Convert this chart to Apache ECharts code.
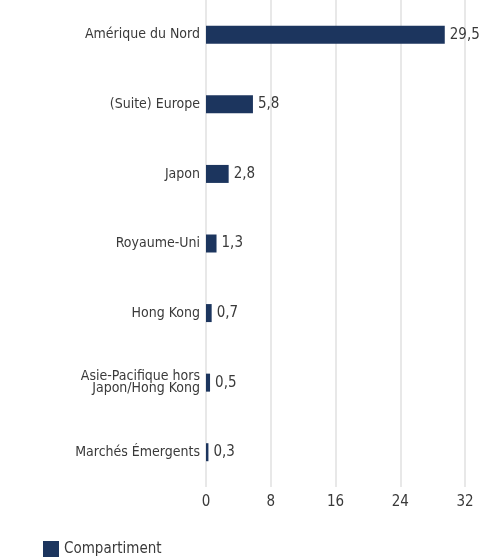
<!DOCTYPE html>
<html><head><meta charset="utf-8">
<script src="https://cdn.jsdelivr.net/npm/echarts@6/dist/echarts.min.js"></script>
<style>html,body{margin:0;padding:0;background:#fff}#c{width:479px;height:559px}</style>
</head><body><div id="c"></div>
<script>
const categories = ["Amérique du Nord","(Suite) Europe","Japon","Royaume-Uni","Hong Kong","Asie-Pacifique hors\nJapon/Hong Kong","Marchés Émergents"];
const values = [29.5, 5.8, 2.8, 1.3, 0.7, 0.5, 0.3];
const seriesName = "Compartiment";
const xTicks = [0, 8, 16, 24, 32];
const FONT = "'Liberation Sans Narrow','DejaVu Sans Condensed','Roboto Condensed',sans-serif";
const chart = echarts.init(document.getElementById('c'), null, {renderer:'canvas'});
chart.setOption({
  animation:false,
  textStyle:{fontFamily:FONT},
  grid:{left:206, right:14, top:0, bottom:72, containLabel:false},
  legend:{show:true, left:38, top:536, itemWidth:16, itemHeight:16, icon:'rect', itemGap:8,
    textStyle:{fontFamily:FONT, fontSize:15, color:'#3a3a3a'}, data:[seriesName]},
  xAxis:{type:'value', min:0, max:32, interval:8,
    axisLine:{show:false}, axisTick:{show:false},
    splitLine:{show:true, lineStyle:{color:'#e8e8e8', width:2}},
    axisLabel:{fontFamily:FONT, fontSize:15, color:'#3a3a3a', margin:8,
      formatter:v=> xTicks.includes(v) ? String(v) : ''}},
  yAxis:{type:'category', data:categories, inverse:true,
    axisLine:{show:false}, axisTick:{show:false},
    axisLabel:{fontFamily:FONT, fontSize:14, color:'#3a3a3a', margin:6, lineHeight:12, align:'right'}},
  series:[{name:seriesName, type:'bar', data:values, barWidth:18,
    itemStyle:{color:'#1c355e'},
    label:{show:true, position:'right', distance:5, fontFamily:FONT, fontSize:15, color:'#3a3a3a',
      formatter:p=>String(p.value).replace('.',',')}}]
});
</script></body></html>
